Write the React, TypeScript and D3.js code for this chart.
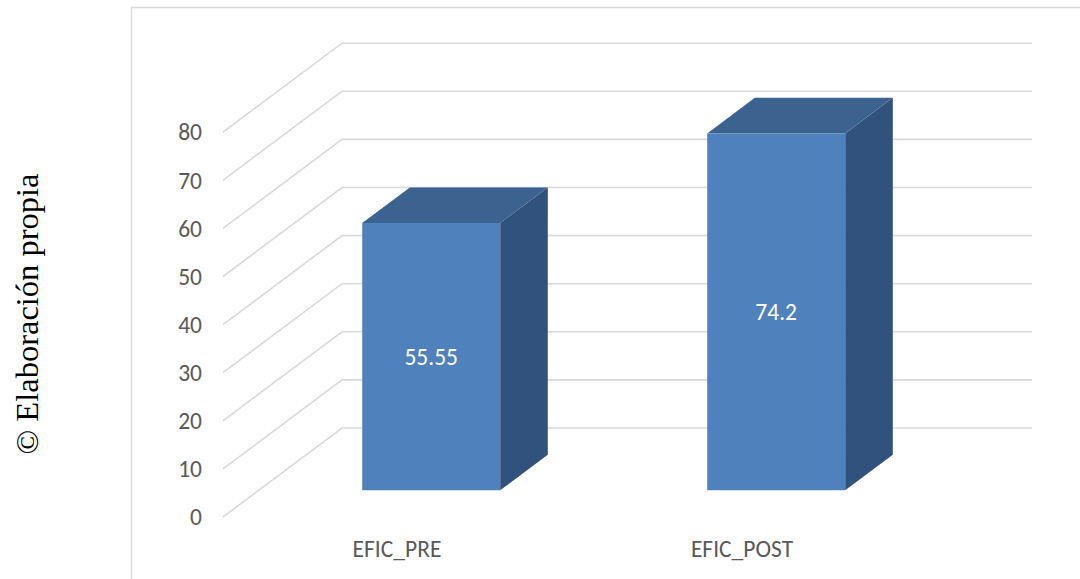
import React from "react";
import * as d3 from "d3";

// Chart data
const categories: string[] = ["EFIC_PRE", "EFIC_POST"];
const values: number[] = [55.55, 74.2];
const yTicks: number[] = [0, 10, 20, 30, 40, 50, 60, 70, 80];

const W = 1080;
const H = 579;

// Oblique 3D projection: full floor depth shifts points right and up
const DEPTH_DX = 119;
const DEPTH_DY = -89;
const BAR_D0 = 0.3; // bar front depth (fraction of floor)
const BAR_D1 = 0.7; // bar back depth
const BAR_FRAC = 0.4; // bar width relative to band

const FRONT = "#4F81BD";
const TOP = "#3C6390";
const SIDE = "#31527D";
const GRID = "#D9D9D9";
const AXIS_TEXT = "#595959";
const FONT = "Carlito, Lato, 'Open Sans', sans-serif";
const FS = 23.5;

export default function App() {
  const x = d3.scaleBand<string>().domain(categories).range([223, 913]).padding(0);
  const y = d3.scaleLinear().domain([0, 80]).range([517, 132.2]);

  const proj = (px: number, v: number, d: number): [number, number] => [
    px + d * DEPTH_DX,
    y(v) + d * DEPTH_DY,
  ];
  const poly = (pts: [number, number][]) => pts.map((p) => p.join(",")).join(" ");

  const [xmin, xmax] = x.range();

  return (
    <svg
      width={W}
      height={H}
      style={{ position: "absolute", left: 0, top: 0, background: "#fff" }}
    >
      {/* chart frame */}
      <path d={`M131.5,${H + 2} V7.5 H${W + 2}`} fill="none" stroke={GRID} strokeWidth={1.3} />

      {/* side caption */}
      <text
        transform={`translate(38,314) rotate(-90)`}
        textAnchor="middle"
        fontFamily="'Liberation Serif', 'Times New Roman', serif"
        fontSize={32.5}
        fill="#000"
      >
        © Elaboración propia
      </text>

      {/* gridlines: left wall diagonal + back wall horizontal */}
      {yTicks.map((t) => {
        const a = proj(xmin, t, 0);
        const b = proj(xmin, t, 1);
        const c = proj(xmax, t, 1);
        return (
          <polyline
            key={t}
            points={poly([a, b, c])}
            fill="none"
            stroke={GRID}
            strokeWidth={1.6}
          />
        );
      })}

      {/* y axis labels */}
      {yTicks.map((t) => (
        <text
          key={t}
          x={202}
          y={y(t)}
          dy="0.35em"
          textAnchor="end"
          fontFamily={FONT}
          fontSize={FS}
          fill={AXIS_TEXT}
        >
          {t}
        </text>
      ))}

      {/* bars */}
      {categories.map((c, i) => {
        const v = values[i];
        const cx = (x(c) as number) + x.bandwidth() / 2;
        const bw = x.bandwidth() * BAR_FRAC;
        const l = cx - bw / 2;
        const r = cx + bw / 2;
        const fbl = proj(l, 0, BAR_D0);
        const fbr = proj(r, 0, BAR_D0);
        const ftl = proj(l, v, BAR_D0);
        const ftr = proj(r, v, BAR_D0);
        const bbr = proj(r, 0, BAR_D1);
        const btl = proj(l, v, BAR_D1);
        const btr = proj(r, v, BAR_D1);
        const labelX = (ftl[0] + ftr[0]) / 2;
        const labelY = (ftl[1] + fbl[1]) / 2;
        return (
          <g key={c}>
            <polygon points={poly([fbr, bbr, btr, ftr])} fill={SIDE} />
            <polygon points={poly([ftl, ftr, btr, btl])} fill={TOP} />
            <polygon points={poly([fbl, fbr, ftr, ftl])} fill={FRONT} />
            <text
              x={labelX}
              y={labelY}
              dy="0.35em"
              textAnchor="middle"
              fontFamily={FONT}
              fontSize={FS}
              fill="#fff"
            >
              {v}
            </text>
          </g>
        );
      })}

      {/* category labels */}
      {categories.map((c) => (
        <text
          key={c}
          x={(x(c) as number) + x.bandwidth() / 2 + 1.5}
          y={549}
          dy="0.35em"
          textAnchor="middle"
          fontFamily={FONT}
          fontSize={FS}
          fill={AXIS_TEXT}
        >
          {c}
        </text>
      ))}
    </svg>
  );
}
